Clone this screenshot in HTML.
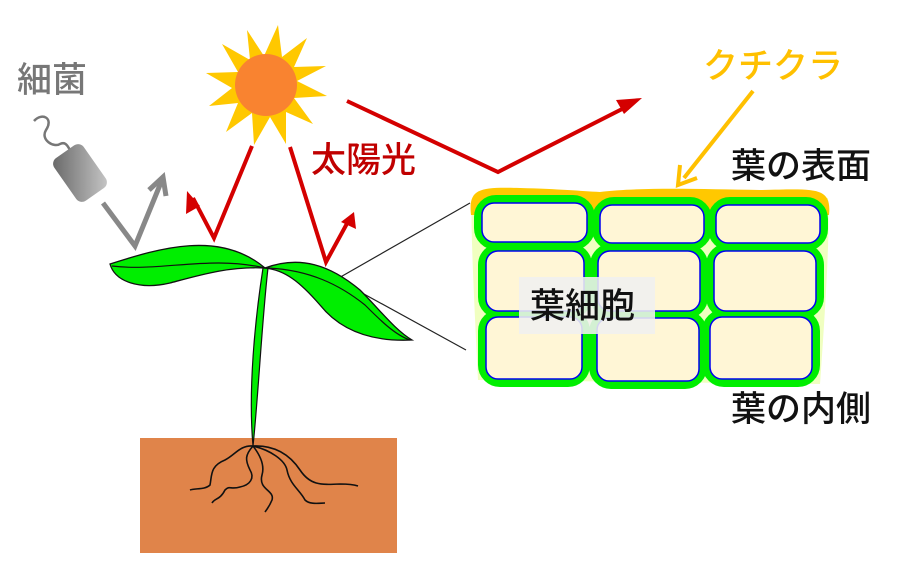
<!DOCTYPE html>
<html><head><meta charset="utf-8"><style>
html,body{margin:0;padding:0;background:#fff}
svg{display:block}
text{font-family:"Liberation Sans","Noto Sans CJK JP",sans-serif;font-size:35px;font-weight:500}
</style></head><body>
<svg width="900" height="577" viewBox="0 0 900 577" xmlns="http://www.w3.org/2000/svg">
<defs>
<linearGradient id="bg" x1="0" y1="0" x2="1" y2="1"><stop offset="0" stop-color="#666"/><stop offset="1" stop-color="#c8c8c8"/></linearGradient>
</defs>
<polygon fill="#FFC800" points="278,25 282,57 307,38 294,67 326,66 297,81 327,96 294,98 313,124 286,112 286,144 270,117 254,145 252,113 226,132 238,103 209,106 232,88 206,73 238,72 222,44 250,60 247,30 264,56" />
<circle cx="266" cy="85" r="31" fill="#F98330"/>
<g stroke="#D40000" stroke-width="4" fill="none">
<polyline points="252,146 214,238 193,198"/>
<polyline points="290,147 326,262 350,218"/>
<polyline points="347,101 498,172 632,104"/>
</g>
<g fill="#D40000">
<polygon points="187,191 186,214 200,206"/>
<polygon points="354,212 341,222 356,229"/>
<polygon points="642,98 616,100 624,114"/>
</g>
<text x="311" y="172" fill="#C00000">太陽光</text>
<text x="17" y="92" fill="#777">細菌</text>
<path d="M34,121 C42,112 54,118 46,130 C40,140 54,148 60,144 C66,141 68,147 70,150" stroke="#777" stroke-width="2.5" fill="none"/>
<rect x="62" y="147" width="36" height="52" rx="7" fill="url(#bg)" transform="rotate(-35 80 173)"/>
<polyline points="103,203 135,246 162,180" stroke="#888" stroke-width="5" fill="none"/>
<polyline points="149,190 163,177 166,196" stroke="#888" stroke-width="5" fill="none"/>
<line x1="337" y1="279" x2="470" y2="203" stroke="#222" stroke-width="1.2"/>
<line x1="353" y1="288" x2="466" y2="350" stroke="#222" stroke-width="1.2"/>
<rect x="140" y="438" width="257" height="115" fill="#E0844A"/>
<path d="M263,268 C255,320 248,390 253,446 C258,400 262,320 268,268 Z" fill="#00EE00" stroke="#111" stroke-width="1.2"/>
<path d="M110,264 C160,248 220,230 265,268 C230,266 200,275 170,283 C140,290 115,282 110,264 Z" fill="#00EE00" stroke="#111" stroke-width="1.3"/>
<path d="M112,266 C160,272 210,255 265,268" stroke="#111" stroke-width="1.2" fill="none"/>
<path d="M265,268 C300,255 330,265 360,290 C380,310 395,330 412,340 C370,342 340,330 320,305 C300,282 285,270 265,268 Z" fill="#00EE00" stroke="#111" stroke-width="1.3"/>
<path d="M268,268 C310,270 340,285 365,305 C380,320 395,335 410,340" stroke="#111" stroke-width="1.2" fill="none"/>
<g stroke="#111" stroke-width="1.6" fill="none">
<path d="M253,446 C240,445 235,455 225,460 C210,466 212,475 210,485 C205,490 195,488 190,490"/>
<path d="M253,446 C245,455 245,460 250,470 C255,478 250,485 240,487 C230,490 230,485 225,490 C220,500 215,498 212,503"/>
<path d="M253,446 C260,455 265,465 262,475 C258,490 275,490 272,500 C270,505 268,508 265,512"/>
<path d="M253,446 C270,450 285,460 287,470 C290,485 300,490 305,500 C310,505 320,503 325,503"/>
<path d="M253,446 C275,445 290,455 300,470 C310,485 320,485 340,484 C350,484 355,485 358,486"/>
</g>
<path d="M472,198 C470,215 474,300 478,380 L820,384 C826,300 830,230 828,198 Z" fill="#F0FFC0"/>
<path d="M471,215 C468,188 480,187 520,188 C560,189 580,191 600,192 C640,187 700,189 760,190 C815,189 832,186 829,215 Z" fill="#FFC800"/>
<g fill="#FFF6D6" stroke="#0000EE" stroke-width="1.5">
<g stroke="#00EE00" stroke-width="16" fill="none">
<rect x="482" y="203" width="105" height="39" rx="14"/>
<rect x="600" y="205" width="104" height="38" rx="14"/>
<rect x="716" y="205" width="104" height="38" rx="14"/>
<rect x="486" y="251" width="98" height="60" rx="14"/>
<rect x="598" y="251" width="102" height="60" rx="14"/>
<rect x="714" y="251" width="102" height="60" rx="14"/>
<rect x="486" y="317" width="96" height="62" rx="14"/>
<rect x="597" y="318" width="102" height="63" rx="14"/>
<rect x="710" y="317" width="102" height="62" rx="14"/>
</g>
<rect x="482" y="203" width="105" height="39" rx="12"/>
<rect x="600" y="205" width="104" height="38" rx="12"/>
<rect x="716" y="205" width="104" height="38" rx="12"/>
<rect x="486" y="251" width="98" height="60" rx="12"/>
<rect x="598" y="251" width="102" height="60" rx="12"/>
<rect x="714" y="251" width="102" height="60" rx="12"/>
<rect x="486" y="317" width="96" height="62" rx="12"/>
<rect x="597" y="318" width="102" height="63" rx="12"/>
<rect x="710" y="317" width="102" height="62" rx="12"/>
</g>
<rect x="519" y="277" width="136" height="57" fill="#F0F0F0" fill-opacity="0.88"/>
<text x="530" y="318" fill="#111">葉細胞</text>
<text x="703" y="78" fill="#FFC000" font-size="33">クチクラ</text>
<line x1="753" y1="91" x2="684" y2="178" stroke="#FFC000" stroke-width="4"/>
<polyline points="680,165 678,185 697,178" stroke="#FFC000" stroke-width="4" fill="none"/>
<text x="731" y="178" fill="#111">葉の表面</text>
<text x="731" y="421" fill="#111">葉の内側</text>
</svg>
</body></html>
